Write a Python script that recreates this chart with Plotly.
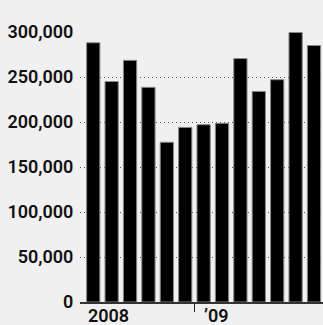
import plotly.graph_objects as go

months = ["Jul 2008", "Aug 2008", "Sep 2008", "Oct 2008", "Nov 2008", "Dec 2008",
          "Jan 2009", "Feb 2009", "Mar 2009", "Apr 2009", "May 2009", "Jun 2009", "Jul 2009"]
values = [288000, 245000, 268500, 238500, 177500, 194000, 197000, 198500,
          270500, 234000, 247000, 299500, 285000]
y_ticks = [0, 50000, 100000, 150000, 200000, 250000, 300000]
year_labels = ["2008", "\u201909"]
year_start_index = [0, 6]
year_label_x = [-0.36, 5.95]

x = list(range(len(months)))
FONT = "Roboto"

fig = go.Figure()
fig.add_trace(go.Bar(
    x=x, y=values, width=0.72,
    marker=dict(color="#000000", line=dict(color="#888888", width=1)),
    hovertext=months, hoverinfo="text+y",
))

fig.update_layout(
    width=323, height=325,
    margin=dict(l=80, r=0, t=32, b=23, pad=0),
    paper_bgcolor="#f0f0f0", plot_bgcolor="#f0f0f0",
    showlegend=False,
    xaxis=dict(
        range=[-0.72, len(months) - 0.51],
        tickvals=[year_start_index[1] - 0.5], ticktext=[""],
        ticks="outside", ticklen=8, tickwidth=1.3, tickcolor="#222",
        showgrid=False, zeroline=False,
        showline=True, linecolor="#333", linewidth=1.5,
    ),
    yaxis=dict(
        range=[0, 300000],
        tickvals=y_ticks, tickformat=",d",
        ticks="outside", ticklen=2, tickcolor="rgba(0,0,0,0)",
        showgrid=True, gridcolor="#555", gridwidth=1, griddash="1px,3px",
        zeroline=False, showline=False,
        tickfont=dict(family=FONT, size=18, color="#111", weight=600),
    ),
)

for lbl, xs in zip(year_labels, year_label_x):
    fig.add_annotation(
        x=xs, y=0, xref="x", yref="paper", text=lbl, showarrow=False,
        xanchor="left", yanchor="top", yshift=-2, borderpad=0,
        font=dict(family=FONT, size=18, color="#111", weight=600),
    )

fig.write_html(
    "out.html",
    config={"displayModeBar": False},
    post_script="document.body.style.margin='0';document.body.style.background='#f0f0f0';",
)
